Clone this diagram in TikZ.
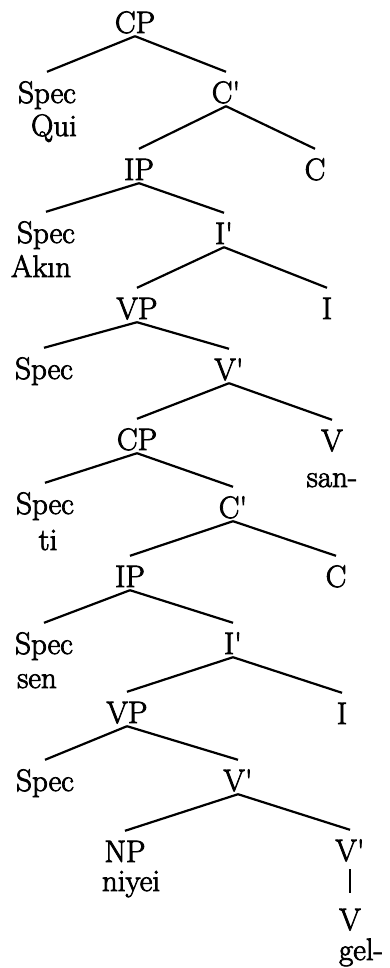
\documentclass[tikz,border=0pt]{standalone}
\usepackage{fontspec}
\newfontfamily\treefont{Latin Modern Roman}[FakeBold=2.5]
\newcommand{\prm}{\textquotesingle}

\begin{document}
\begin{tikzpicture}[x=1pt,y=-1pt,
    cat/.style={font=\treefont\fontsize{31pt}{36pt}\selectfont, inner sep=0pt, anchor=base, text height=31pt, text depth=3pt},
    word/.style={font=\treefont\fontsize{31pt}{36pt}\selectfont, inner sep=0pt, anchor=base},
    branch/.style={line width=2.2pt},
    bar/.style={line width=1.2pt, shorten <=5pt, shorten >=6pt}]
    \useasboundingbox (0,0) rectangle (389,968);
    % matrix clause
    \node[cat] (cp1) at (135,33) {CP};
    \node[cat] (spec1) at (47,103) {Spec};
    \node[word] (qui) at (54,136) {Qui};
    \node[cat] (cbar1) at (226,103) {C\prm};
    \node[cat] (ip1) at (139,180) {IP};
    \node[cat] (c1) at (315,180) {C};
    \node[cat] (spec2) at (46,243) {Spec};
    \node[word] (akin) at (41,277) {Akın};
    \node[cat] (ibar1) at (224,244) {I\prm};
    \node[cat] (vp1) at (137,319) {VP};
    \node[cat] (i1) at (327,319) {I};
    \node[cat] (spec3) at (44,379) {Spec};
    \node[cat] (vbar1) at (229,380) {V\prm};
    \node[cat] (v1) at (332,451) {V};
    \node[word] (san) at (332,487) {san-};
    % embedded clause
    \node[cat] (cp2) at (137,450) {CP};
    \node[cat] (spec4) at (45,514) {Spec};
    \node[word] (ti) at (48,550) {ti};
    \node[cat] (cbar2) at (233,518) {C\prm};
    \node[cat] (ip2) at (130,587) {IP};
    \node[cat] (c2) at (336,587) {C};
    \node[cat] (spec5) at (44,654) {Spec};
    \node[word] (sen) at (37,688) {sen};
    \node[cat] (ibar2) at (233,654) {I\prm};
    \node[cat] (vp2) at (127,723) {VP};
    \node[cat] (i2) at (342,724) {I};
    \node[cat] (spec6) at (45,791) {Spec};
    \node[cat] (vbar2) at (238,791) {V\prm};
    \node[cat] (np) at (125,862) {NP};
    \node[word] (niyei) at (131,891) {niyei};
    \node[cat] (vbar3) at (350,861) {V\prm};
    \node[cat] (v2) at (350,930) {V};
    \node[word] (gel) at (361,960) {gel-};

    \foreach \p/\c in {cp1/spec1, cp1/cbar1, cbar1/ip1, cbar1/c1, ip1/spec2, ip1/ibar1,
        ibar1/vp1, ibar1/i1, vp1/spec3, vp1/vbar1, vbar1/cp2, vbar1/v1,
        cp2/spec4, cp2/cbar2, cbar2/ip2, cbar2/c2, ip2/spec5, ip2/ibar2,
        ibar2/vp2, ibar2/i2, vp2/spec6, vp2/vbar2, vbar2/np, vbar2/vbar3}
        \draw[branch] (\p.south) -- (\c.north);
    \draw[bar] (vbar3.south) -- (v2.north);
\end{tikzpicture}
\end{document}
